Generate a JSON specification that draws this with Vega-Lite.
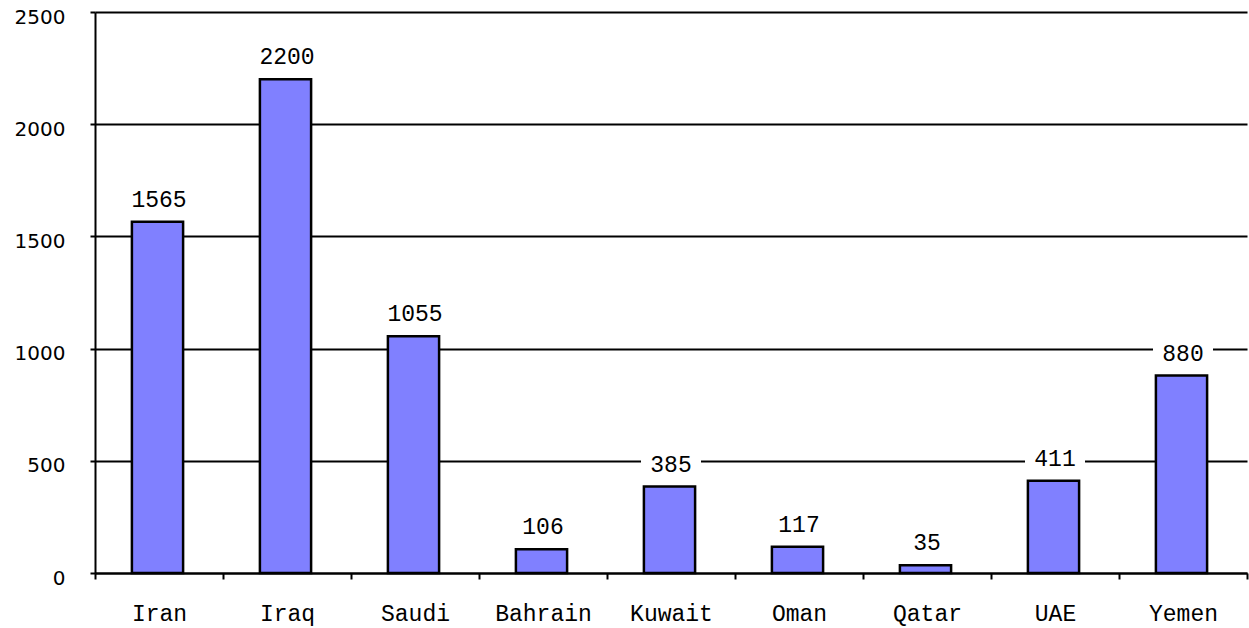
{
  "$schema": "https://vega.github.io/schema/vega-lite/v6.json",
  "width": 1152,
  "height": 561,
  "autosize": {"type": "none"},
  "padding": {"left": 95, "top": 12, "right": 2, "bottom": 55},
  "background": "white",
  "config": {"view": {"stroke": null}},
  "data": {"values": [
    {"country": "Iran", "value": 1565},
    {"country": "Iraq", "value": 2200},
    {"country": "Saudi", "value": 1055},
    {"country": "Bahrain", "value": 106},
    {"country": "Kuwait", "value": 385},
    {"country": "Oman", "value": 117},
    {"country": "Qatar", "value": 35},
    {"country": "UAE", "value": 411},
    {"country": "Yemen", "value": 880}
  ]},
  "encoding": {
    "x": {
      "field": "country", "type": "nominal", "sort": null,
      "scale": {"paddingInner": 0, "paddingOuter": 0},
      "axis": {
        "title": null, "labelAngle": 0, "tickBand": "extent",
        "domainColor": "black", "domainWidth": 2,
        "tickColor": "black", "tickWidth": 2, "tickSize": 6,
        "labelFont": "Courier New, Courier, Liberation Mono", "labelFontSize": 23, "labelColor": "black",
        "labelPadding": 23
      }
    },
    "y": {
      "field": "value", "type": "quantitative",
      "scale": {"domain": [0, 2500], "nice": false},
      "axis": {
        "title": null, "values": [0, 500, 1000, 1500, 2000, 2500], "format": "d",
        "grid": true, "gridColor": "black", "gridWidth": 2, "gridOpacity": 1,
        "domainColor": "black", "domainWidth": 2,
        "tickColor": "black", "tickWidth": 2, "tickSize": 5,
        "labelFont": "DejaVu Sans", "labelFontSize": 20, "labelColor": "black",
        "labelPadding": 25, "labelOffset": 5
      }
    }
  },
  "layer": [
    {
      "mark": {"type": "bar", "width": {"band": 0.4}, "xOffset": -1.5, "fill": "#8080FF", "stroke": "black", "strokeWidth": 2.5}
    },
    {
      "mark": {"type": "point", "shape": "M-1,-0.4H1V0.4H-1Z", "size": 3600, "filled": true, "fill": "white", "opacity": 1, "strokeWidth": 0, "yOffset": -22}
    },
    {
      "mark": {"type": "text", "dy": -22, "baseline": "middle", "align": "center", "font": "Courier New, Courier, Liberation Mono", "fontSize": 23, "color": "black"},
      "encoding": {"text": {"field": "value", "type": "quantitative"}}
    }
  ]
}
